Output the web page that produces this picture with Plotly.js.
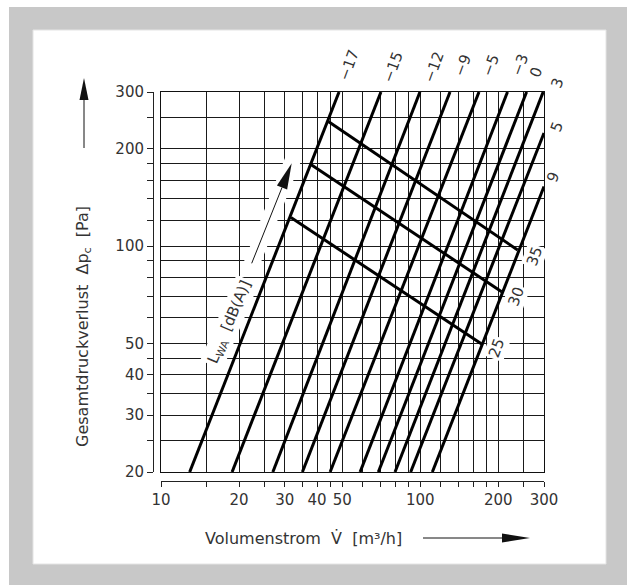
<!DOCTYPE html>
<html><head><meta charset="utf-8">
<script src="https://cdn.plot.ly/plotly-3.0.1.min.js"></script>
<style>html,body{margin:0;padding:0;background:#fff}#chart{width:633px;height:585px}</style>
</head><body><div id="chart"></div>
<script>
// ---------- data ----------
const settingLabels = ['\u221217','\u221215','\u221212','\u22129','\u22125','\u22123','0','3','5','9'];
const flowStart  = [12.9, 18.8, 27.0, 35.1, 44.9, 58.6, 68.9, 79.9, 91.8, 111.3];
const pressStart = [20, 20, 20, 20, 20, 20, 20, 20, 20, 20];
const flowEnd    = [48.6, 70.5, 99.7, 130.2, 168.4, 216.9, 257, 297.8, 300, 300];
const pressEnd   = [300, 300, 300, 300, 300, 300, 300, 300, 224, 153];

const soundLabels     = ['25', '30', '35'];
const soundFlowStart  = [31.7, 37.6, 44.2];
const soundPressStart = [122.6, 179.5, 243];
const soundFlowEnd    = [172.5, 206, 237.4];
const soundPressEnd   = [49.8, 72.3, 97.3];

const xGrid = [10,15,20,25,30,35,40,45,50,60,70,80,90,100,120,140,160,180,200,250,300];
const xTickLabels = {10:'10',20:'20',30:'30',40:'40',50:'50',100:'100',200:'200',300:'300'};
const yGrid = [20,25,30,35,40,45,50,60,70,80,90,100,120,140,160,180,200,250,300];
const yTickLabels = {20:'20',30:'30',40:'40',50:'50',100:'100',200:'200',300:'300'};

// ---------- layout geometry (pixels) ----------
const W = 633, H = 585;
const X0 = 161, X1 = 544, Y0 = 92, Y1 = 472;     // plot frame
const yAxisX = 153, xAxisY = 481;                // detached axis lines
const L = 140, R = W - X1, T = Y0, B = 100;
const PW = W - L - R, PH = H - T - B;
const P = px => (px - L) / PW;                   // pixel -> paper
const Q = py => (H - B - py) / PH;
const lx = [1, Math.log10(300)], ly = [Math.log10(20), Math.log10(300)];
const dX = px => Math.pow(10, lx[0] + (px - X0) / (X1 - X0) * (lx[1] - lx[0]));   // pixel -> axis value
const dY = py => Math.pow(10, ly[0] + (Y1 - py) / (Y1 - Y0) * (ly[1] - ly[0]));

const FONT = 'DejaVu Sans';
const TXT = '#333';

const settingLabelPos = [[349,65],[393,67],[434,67],[462.5,66],[490.5,66],[520,65],[536.7,72.5],[557.5,83.3],[556.7,126.7],[553,176.7]];
const soundLabelPos = [[496,348.5],[516,297],[534,256.7]];

// ---------- traces ----------
const traces = [];
for (let i = 0; i < flowStart.length; i++) {
  traces.push({type:'scatter', mode:'lines', x:[flowStart[i], flowEnd[i]], y:[pressStart[i], pressEnd[i]],
    line:{color:'#000', width:3}, hoverinfo:'skip', showlegend:false, name: settingLabels[i]});
}
for (let i = 0; i < soundLabels.length; i++) {
  traces.push({type:'scatter', mode:'lines', x:[soundFlowStart[i], soundFlowEnd[i]], y:[soundPressStart[i], soundPressEnd[i]],
    line:{color:'#000', width:3}, hoverinfo:'skip', showlegend:false, name: soundLabels[i] + ' dB(A)'});
}
traces.push({type:'scatter', mode:'none', x:[10], y:[20], xaxis:'x2', yaxis:'y2', hoverinfo:'skip', showlegend:false});

// ---------- shapes ----------
function arrow(tip, tail, headLen, halfW) {
  const dx = tip[0]-tail[0], dy = tip[1]-tail[1], len = Math.hypot(dx,dy);
  const ux = dx/len, uy = dy/len, nx = -uy, ny = ux;
  const bx = tip[0]-ux*headLen, by = tip[1]-uy*headLen;
  return [
    {type:'line', xref:'paper', yref:'paper', x0:P(tail[0]), y0:Q(tail[1]), x1:P(bx), y1:Q(by), line:{color:'#111', width:1}},
    {type:'path', xref:'paper', yref:'paper',
     path:`M${P(tip[0])},${Q(tip[1])} L${P(bx+nx*halfW)},${Q(by+ny*halfW)} L${P(bx-nx*halfW)},${Q(by-ny*halfW)} Z`,
     fillcolor:'#111', line:{width:0}}
  ];
}
function band(a, b, hw) {
  const dx = b[0]-a[0], dy = b[1]-a[1], len = Math.hypot(dx,dy);
  const nx = -dy/len*hw, ny = dx/len*hw;
  const pts = [[a[0]+nx,a[1]+ny],[b[0]+nx,b[1]+ny],[b[0]-nx,b[1]-ny],[a[0]-nx,a[1]-ny]];
  return {type:'path', xref:'x', yref:'y', layer:'between',
    path: 'M' + pts.map(p => dX(p[0]) + ',' + dY(p[1])).join(' L') + ' Z',
    fillcolor:'#fff', line:{width:0}};
}
const shapes = [
  {type:'rect', xref:'paper', yref:'paper', layer:'below', x0:P(9), x1:P(627), y0:Q(7), y1:Q(585), fillcolor:'#c8c8c8', line:{width:0}},
  {type:'rect', xref:'paper', yref:'paper', layer:'below', x0:P(33), x1:P(606), y0:Q(30), y1:Q(564), fillcolor:'#ffffff', line:{color:'#e4e4e4', width:1}},
  ...arrow([291.7,163.3], [251.7,263.3], 26, 5.5),
  ...arrow([84,78], [84,148], 22, 4.5),
  ...arrow([530,538], [423,538], 28, 4.5),
  band([250, 268], [294, 157], 8)
];

// ---------- annotations ----------
const annotations = [];
settingLabels.forEach((t, i) => annotations.push({xref:'paper', yref:'paper', x:P(settingLabelPos[i][0]), y:Q(settingLabelPos[i][1]),
  text:t, showarrow:false, textangle:-70, xanchor:'center', yanchor:'middle', font:{family:FONT, size:15, color:TXT}}));
soundLabels.forEach((t, i) => annotations.push({xref:'paper', yref:'paper', x:P(soundLabelPos[i][0]), y:Q(soundLabelPos[i][1]),
  text:t, showarrow:false, textangle:-70, xanchor:'center', yanchor:'middle', bgcolor:'#fff', borderpad:1,
  font:{family:FONT, size:15, color:TXT}}));
annotations.push({xref:'paper', yref:'paper', x:P(229), y:Q(322), text:'L<sub>WA</sub>  [dB(A)]', showarrow:false,
  textangle:-67, xanchor:'center', yanchor:'middle', bgcolor:'#fff', borderpad:2, font:{family:FONT, size:15, color:TXT}});
annotations.push({xref:'paper', yref:'paper', x:P(303), y:Q(538), text:'Volumenstrom  V\u0307  [m\u00b3/h]', showarrow:false,
  xanchor:'center', yanchor:'middle', font:{family:FONT, size:16, color:TXT}});
annotations.push({xref:'paper', yref:'paper', x:P(83), y:Q(327), text:'Gesamtdruckverlust  \u0394p<sub>c</sub>  [Pa]', showarrow:false,
  textangle:-90, xanchor:'center', yanchor:'middle', font:{family:FONT, size:16, color:TXT}});

// ---------- axes ----------
const layout = {
  width:W, height:H, margin:{l:L, r:R, t:T, b:B, pad:0},
  paper_bgcolor:'#fff', plot_bgcolor:'#fff', showlegend:false,
  font:{family:FONT, size:15, color:TXT},
  xaxis:{type:'log', range:lx, autorange:false, domain:[(X0-L)/PW, 1], tickmode:'array', tickvals:xGrid, showticklabels:false,
    ticks:'', showgrid:true, gridcolor:'#1a1a1a', gridwidth:1, showline:true, mirror:true, linecolor:'#111', linewidth:1, zeroline:false, fixedrange:true},
  yaxis:{type:'log', range:ly, autorange:false, domain:[(H-B-Y1)/PH, 1], tickmode:'array', tickvals:yGrid, showticklabels:false,
    ticks:'', showgrid:true, gridcolor:'#1a1a1a', gridwidth:1, showline:true, mirror:true, linecolor:'#111', linewidth:1, zeroline:false, fixedrange:true},
  xaxis2:{type:'log', range:lx, autorange:false, overlaying:'x', anchor:'free', position:Q(xAxisY), side:'bottom',
    tickmode:'array', tickvals:xGrid, ticktext:xGrid.map(v => xTickLabels[v] || ''), ticks:'outside', ticklen:5, tickcolor:'#222', tickwidth:1,
    showline:true, linecolor:'#222', linewidth:1, showgrid:false, zeroline:false, tickfont:{family:FONT, size:15, color:TXT}, fixedrange:true},
  yaxis2:{type:'log', range:ly, autorange:false, overlaying:'y', anchor:'free', position:P(yAxisX), side:'left',
    tickmode:'array', tickvals:yGrid, ticktext:yGrid.map(v => yTickLabels[v] || ''), ticks:'outside', ticklen:6, tickcolor:'#222', tickwidth:1,
    showline:true, linecolor:'#222', linewidth:1, showgrid:false, zeroline:false, tickfont:{family:FONT, size:15, color:TXT}, fixedrange:true},
  shapes:shapes, annotations:annotations
};
Plotly.newPlot('chart', traces, layout, {staticPlot:true, displayModeBar:false});
</script></body></html>
